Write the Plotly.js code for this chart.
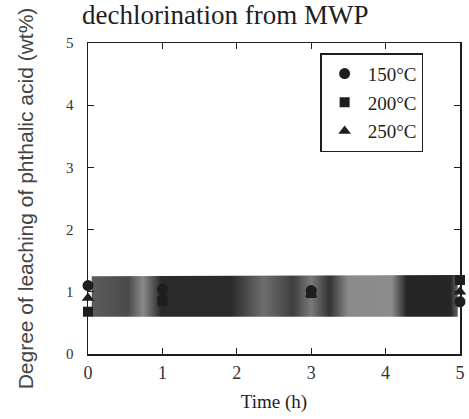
<!DOCTYPE html>
<html>
<head>
<meta charset="utf-8">
<script src="https://cdn.plot.ly/plotly-3.0.1.min.js"></script>
<style>html,body{margin:0;padding:0;background:#fff;}#chart{width:469px;height:419px;}</style>
</head>
<body>
<div id="chart"></div>
<script>
// Data
const timeH = [0, 1, 3, 5];
const seriesNames = ['150°C', '200°C', '250°C'];
const y150 = [1.10, 1.04, 1.02, 0.84];
const y200 = [0.68, 0.85, 0.98, 1.19];
const y250 = [0.90, 0.92, 0.96, 1.00];
// Dark scanned band that covers the curves
const bandX = [0.05, 4.97];
const bandLow = [0.60, 0.60];
const bandHigh = [1.25, 1.27];
const xTicks = [0, 1, 2, 3, 4, 5];
const yTicks = [0, 1, 2, 3, 4, 5];

const serif = 'Liberation Serif, Times New Roman, serif';
const ink = '#1e1e1e';

const traces = [
  {x: bandX, y: bandLow, mode: 'lines', line: {width: 0, color: 'rgba(0,0,0,0)'}, showlegend: false, hoverinfo: 'skip'},
  {x: bandX, y: bandHigh, mode: 'lines', fill: 'tonexty', line: {width: 0, color: 'rgba(0,0,0,0)'},
   fillgradient: {type: 'horizontal', colorscale: [
     [0, '#5c5c5c'], [0.1, '#4a4a4a'], [0.14, '#8a8a8a'], [0.19, '#2a2a2a'], [0.38, '#2a2a2a'],
     [0.47, '#6e6e6e'], [0.55, '#3e3e3e'], [0.6, '#7a7a7a'], [0.65, '#333333'], [0.7, '#8a8a8a'],
     [0.82, '#8c8c8c'], [0.86, '#262626'], [0.98, '#262626'], [1, '#666666']]},
   showlegend: false, hoverinfo: 'skip'},
  {x: timeH, y: y150, name: seriesNames[0], legendgroup: 'a', mode: 'markers', cliponaxis: false,
   marker: {symbol: 'circle', size: 11, color: ink}},
  {x: timeH, y: y200, name: seriesNames[1], legendgroup: 'b', mode: 'markers', cliponaxis: false,
   marker: {symbol: 'square', size: 10, color: ink}},
  {x: timeH, y: y250, name: seriesNames[2], legendgroup: 'c', mode: 'markers', cliponaxis: false,
   marker: {symbol: 'triangle-up', size: 11, color: ink}}
];

const axisBase = {
  showline: true, linecolor: ink, linewidth: 1.5, mirror: 'ticks',
  ticks: 'inside', ticklen: 6, tickwidth: 1.2, tickcolor: ink,
  showgrid: false, zeroline: false, fixedrange: true
};

const layout = {
  width: 469, height: 419,
  margin: {l: 88, r: 9, t: 43, b: 65},
  paper_bgcolor: '#fff', plot_bgcolor: '#fff',
  font: {family: serif, color: ink},
  title: {text: 'dechlorination from MWP', x: 82 / 469, xanchor: 'left', xref: 'container',
          y: 1 - 15 / 419, yanchor: 'middle', yref: 'container',
          font: {family: serif, size: 27, color: ink}},
  xaxis: Object.assign({}, axisBase, {
    range: [0, 5], tickvals: xTicks, ticktext: xTicks.map(String),
    tickfont: {family: serif, size: 18, color: '#333'},
    ticklabelstandoff: 2,
    title: {text: 'Time (h)', font: {family: serif, size: 19, color: ink}, standoff: 12}
  }),
  yaxis: Object.assign({}, axisBase, {
    range: [0, 5], tickvals: yTicks, ticktext: yTicks.map(String),
    tickfont: {family: serif, size: 15, color: '#333'},
    ticklabelstandoff: 10,
    title: {text: 'Degree of leaching of phthalic acid (wt%)',
            font: {family: 'Liberation Sans, Arial, sans-serif', size: 21, color: '#444'}, standoff: 26}
  }),
  showlegend: true,
  legend: {x: 0.624, y: 0.967, xanchor: 'left', yanchor: 'top',
           bgcolor: '#fff', bordercolor: ink, borderwidth: 1.5,
           font: {family: serif, size: 19, color: ink},
           traceorder: 'grouped', tracegroupgap: 1, itemwidth: 36}
};

Plotly.newPlot('chart', traces, layout, {displayModeBar: false, staticPlot: true});
</script>
</body>
</html>
